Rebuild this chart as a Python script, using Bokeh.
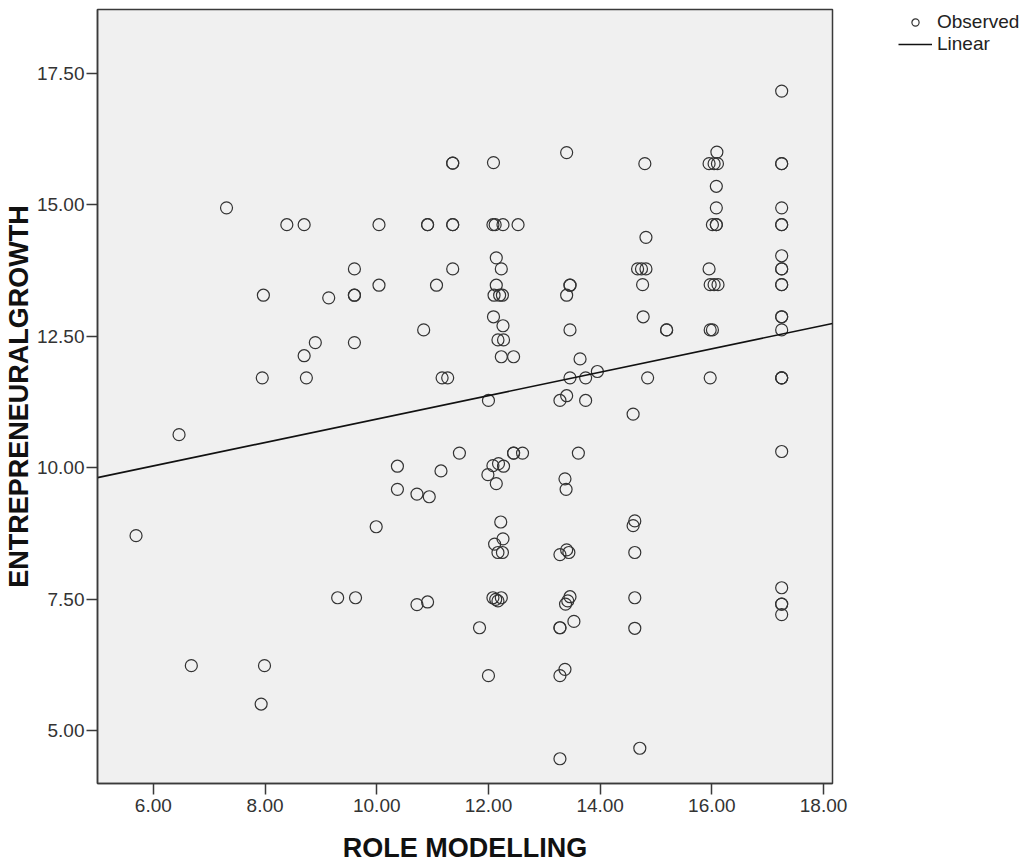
from bokeh.plotting import figure
from bokeh.models import Range1d, FixedTicker, NumeralTickFormatter, Legend, LegendItem
from bokeh.layouts import row
from bokeh.embed import file_html
from bokeh.resources import INLINE

# ---- data ----
role_modelling = [
    7.31, 8.39, 8.70, 7.97, 9.14, 8.90, 8.70, 7.95, 8.74, 6.46, 5.69, 9.30, 6.68, 7.99, 7.93,
    13.40, 11.36, 11.36, 12.09, 10.04, 10.91, 10.91, 11.36, 11.36, 12.08, 12.12, 12.26, 12.53,
    12.14, 12.23, 9.60, 11.36, 10.04, 11.07, 12.14, 9.60, 9.60, 12.10, 12.20, 12.25,
    13.46, 13.46, 13.40, 12.09, 12.26, 10.84, 9.60, 12.17, 12.27, 13.46, 12.23, 12.45, 13.64,
    11.17, 11.27, 13.46, 13.74, 13.95,
    12.00, 13.28, 13.40, 13.74, 10.37, 11.48, 11.15, 10.37, 10.72, 10.94, 9.99,
    12.08, 12.18, 12.27, 11.99, 12.14, 12.45, 12.45, 12.61, 13.61, 13.37, 13.39,
    12.22, 12.11, 12.26, 12.17, 12.25, 13.28, 13.40, 13.44, 9.62, 10.72, 10.91,
    12.08, 12.13, 12.17, 12.23, 13.46, 13.42, 13.38, 11.84, 13.28, 13.28, 13.53,
    12.00, 13.28, 13.37, 13.28,
    17.25, 14.80, 15.95, 16.04, 16.10, 16.09, 17.25, 17.25, 16.08, 16.08, 16.01, 16.08, 16.08,
    17.25, 17.25, 17.25, 14.82, 17.25, 17.25, 17.25, 17.25, 17.25, 14.67, 14.74, 14.82, 14.76,
    15.95, 15.97, 16.04, 16.11, 14.77, 15.19, 15.19, 15.97, 16.01, 17.25, 17.25, 17.25,
    14.85, 15.97, 17.25, 17.25, 17.25,
    14.59, 17.25, 14.62, 14.59, 14.62, 14.62, 14.62, 14.71, 17.25, 17.25, 17.25, 17.25,
]
entrepreneurial_growth = [
    14.94, 14.62, 14.62, 13.28, 13.23, 12.38, 12.13, 11.71, 11.71, 10.63, 8.71, 7.53, 6.24, 6.24, 5.51,
    15.99, 15.79, 15.79, 15.80, 14.62, 14.62, 14.62, 14.62, 14.62, 14.62, 14.62, 14.62, 14.62,
    13.99, 13.78, 13.78, 13.78, 13.47, 13.47, 13.47, 13.28, 13.28, 13.28, 13.28, 13.28,
    13.47, 13.47, 13.28, 12.87, 12.70, 12.62, 12.38, 12.43, 12.43, 12.62, 12.11, 12.11, 12.07,
    11.71, 11.71, 11.71, 11.71, 11.83,
    11.28, 11.28, 11.37, 11.28, 10.03, 10.28, 9.94, 9.59, 9.50, 9.45, 8.88,
    10.04, 10.08, 10.03, 9.87, 9.70, 10.28, 10.28, 10.28, 10.28, 9.79, 9.59,
    8.97, 8.55, 8.65, 8.39, 8.39, 8.35, 8.44, 8.39, 7.53, 7.40, 7.45,
    7.53, 7.50, 7.47, 7.53, 7.55, 7.47, 7.41, 6.96, 6.96, 6.96, 7.08,
    6.05, 6.05, 6.17, 4.47,
    17.16, 15.78, 15.78, 15.78, 15.78, 16.00, 15.78, 15.78, 15.35, 14.94, 14.62, 14.62, 14.62,
    14.94, 14.62, 14.62, 14.38, 14.03, 13.78, 13.78, 13.48, 13.48, 13.78, 13.78, 13.78, 13.48,
    13.78, 13.48, 13.48, 13.48, 12.87, 12.62, 12.62, 12.62, 12.62, 12.87, 12.87, 12.62,
    11.71, 11.71, 11.71, 11.71, 11.71,
    11.02, 10.31, 8.99, 8.90, 8.39, 7.53, 6.95, 4.67, 7.72, 7.41, 7.41, 7.21,
]

# linear fit coefficients
fit_intercept = 8.70
fit_slope = 0.2226

x_ticks = [6, 8, 10, 12, 14, 16, 18]
y_ticks = [5.0, 7.5, 10.0, 12.5, 15.0, 17.5]
x_title = "ROLE MODELLING"
y_title = "ENTREPRENEURALGROWTH"
legend_labels = ["Observed", "Linear"]

X_MIN, X_MAX = 5.0, 18.16
Y_MIN, Y_MAX = 4.0, 18.71

font = "Liberation Sans"
POINT_STYLE = dict(size=12, marker="circle", fill_color=None, line_color="#333333", line_width=1.2)
LINE_STYLE = dict(line_color="#111111", line_width=1.6)

p = figure(
    width=896, height=866,
    x_range=Range1d(X_MIN, X_MAX), y_range=Range1d(Y_MIN, Y_MAX),
    output_backend="svg", toolbar_location=None,
    min_border_left=97, min_border_right=64, min_border_top=9, min_border_bottom=83,
)
p.background_fill_color = "#F0F0F0"
p.border_fill_color = "white"
p.outline_line_color = "#3a3a3a"
p.outline_line_width = 1.5
p.grid.visible = False

p.scatter(role_modelling, entrepreneurial_growth, **POINT_STYLE)

line_x = [X_MIN, X_MAX]
line_y = [fit_intercept + fit_slope * v for v in line_x]
p.line(line_x, line_y, **LINE_STYLE)

for ax in (p.xaxis[0], p.yaxis[0]):
    ax.axis_line_color = "#3a3a3a"
    ax.axis_line_width = 1.5
    ax.major_tick_line_color = "#3a3a3a"
    ax.major_tick_line_width = 1.5
    ax.major_tick_out = 11
    ax.major_tick_in = 0
    ax.minor_tick_line_color = None
    ax.major_label_text_font = font
    ax.major_label_text_font_size = "19px"
    ax.major_label_text_color = "#333333"
    ax.axis_label_text_font = font
    ax.axis_label_text_font_style = "bold"
    ax.axis_label_text_font_size = "27px"
    ax.axis_label_text_color = "#111111"
    ax.formatter = NumeralTickFormatter(format="0.00")

p.xaxis[0].ticker = FixedTicker(ticks=x_ticks)
p.yaxis[0].ticker = FixedTicker(ticks=y_ticks)
p.xaxis[0].axis_label = x_title
p.yaxis[0].axis_label = y_title
p.xaxis[0].major_label_standoff = 4
p.yaxis[0].major_label_standoff = 2
p.xaxis[0].axis_label_standoff = 18
p.yaxis[0].axis_label_standoff = 0

# ---- legend panel to the right of the chart ----
lp = figure(width=134, height=866, x_axis_type=None, y_axis_type=None,
            x_range=Range1d(0, 1), y_range=Range1d(0, 1),
            output_backend="svg", toolbar_location=None,
            min_border_left=0, min_border_right=0, min_border_top=0, min_border_bottom=0)
lp.outline_line_color = None
lp.grid.visible = False
# legend key renderers: placed outside the visible range so only their legend swatches show
lr_pts = lp.scatter([-5], [-5], **POINT_STYLE)
lr_line = lp.line([-5, -4], [-5, -5], **LINE_STYLE)

lg = Legend(items=[LegendItem(label=legend_labels[0], renderers=[lr_pts]),
                   LegendItem(label=legend_labels[1], renderers=[lr_line])])
lg.location = "top_left"
lg.padding = 0
lg.margin = 2
lg.spacing = 0
lg.border_line_color = None
lg.background_fill_alpha = 0
lg.glyph_width = 34
lg.glyph_height = 18
lg.label_height = 18
lg.label_standoff = 5
lg.label_text_font = font
lg.label_text_font_size = "19px"
lg.label_text_color = "#222222"
lp.add_layout(lg, "center")

layout = row(p, lp)
open("out.html", "w").write(file_html(layout, INLINE))
